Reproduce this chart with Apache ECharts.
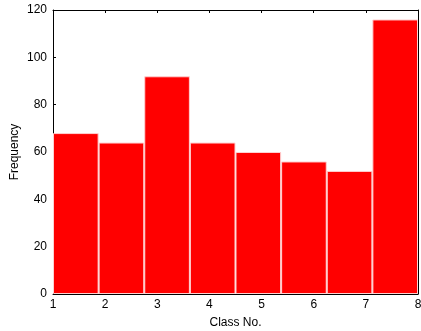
<!DOCTYPE html>
<html><head><meta charset="utf-8">
<script src="https://cdn.jsdelivr.net/npm/echarts@6/dist/echarts.min.js"></script>
<style>html,body{margin:0;padding:0;background:#fff}#c{width:421px;height:331px}</style>
</head><body><div id="c"></div>
<script>
const classes = ['1','2','3','4','5','6','7','8'];
const frequency = [68, 64, 92, 64, 60, 56, 52, 116];
const xTicks = [1, 2, 3, 4, 5, 6, 7, 8];
const yTicks = [0, 20, 40, 60, 80, 100, 120];

const font = 'Liberation Sans, Arial, sans-serif';
const chart = echarts.init(document.getElementById('c'));
const boxAxis = {
  axisLine: {show: true, lineStyle: {color: '#000', width: 1}},
  axisTick: {show: true, inside: true, length: 3, lineStyle: {color: '#000'}},
  splitLine: {show: false}
};
chart.setOption({
  animation: false,
  grid: {left: 53, right: 3, top: 10, bottom: 37, containLabel: false, outerBoundsMode: 'none'},
  xAxis: [
    {type: 'category', data: classes, show: false, boundaryGap: true},
    Object.assign({type: 'value', position: 'bottom', min: xTicks[0], max: xTicks[xTicks.length-1], interval: 1,
      name: 'Class No.', nameLocation: 'middle', nameGap: 23, nameMoveOverlap: false,
      nameTextStyle: {fontFamily: font, fontSize: 12, color: '#000'},
      axisLabel: {fontFamily: font, fontSize: 12, color: '#000', margin: 5}}, boxAxis),
    Object.assign({type: 'value', position: 'top', min: xTicks[0], max: xTicks[xTicks.length-1], interval: 1,
      axisLabel: {show: false}}, boxAxis)
  ],
  yAxis: [
    Object.assign({type: 'value', min: yTicks[0], max: yTicks[yTicks.length-1], interval: 20, position: 'left',
      name: 'Frequency', nameLocation: 'middle', nameGap: 32, nameRotate: 90, nameMoveOverlap: false,
      nameTextStyle: {fontFamily: font, fontSize: 12, color: '#000'},
      axisLabel: {fontFamily: font, fontSize: 12, color: '#000', margin: 6}}, boxAxis),
    Object.assign({type: 'value', min: yTicks[0], max: yTicks[yTicks.length-1], interval: 20, position: 'right',
      axisLabel: {show: false}}, boxAxis)
  ],
  series: [{
    type: 'bar', xAxisIndex: 0, yAxisIndex: 0, data: frequency,
    barCategoryGap: '0%', barGap: '0%',
    itemStyle: {color: '#ff0000', borderColor: '#ffd0d0', borderWidth: 1},
    z: 1
  }]
});
</script></body></html>
